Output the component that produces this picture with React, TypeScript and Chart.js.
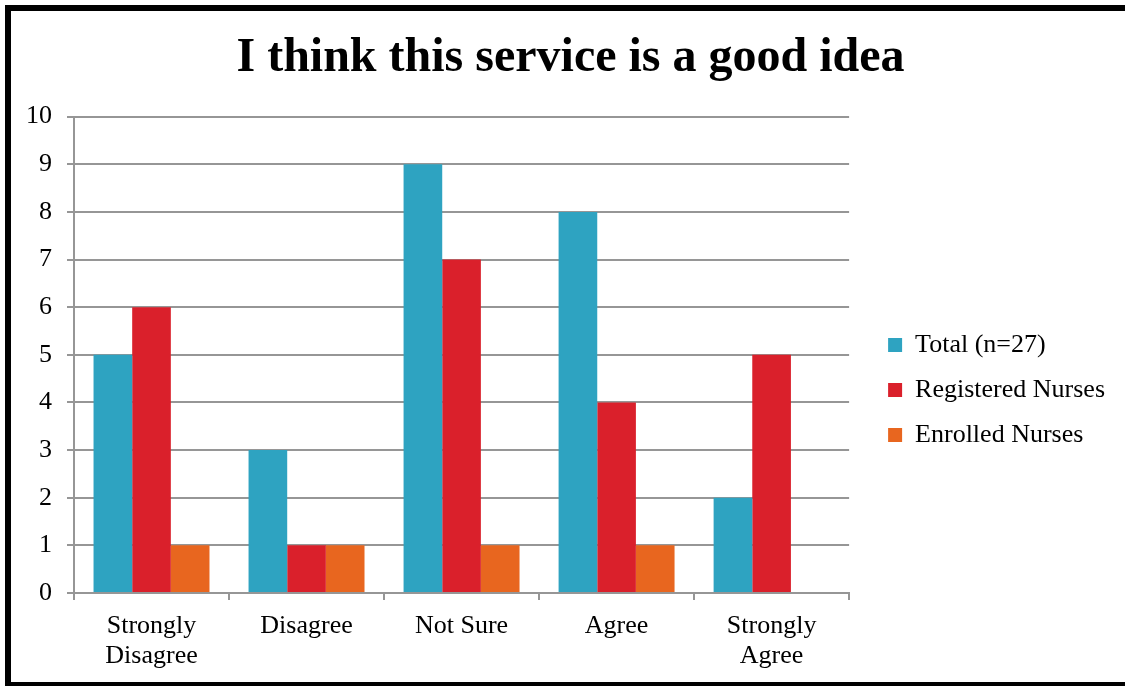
import React, { useEffect, useRef } from "react";
import { Chart, registerables } from "chart.js";

Chart.register(...registerables);

const TITLE = "I think this service is a good idea";
const categories: string[][] = [
  ["Strongly", "Disagree"],
  ["Disagree"],
  ["Not Sure"],
  ["Agree"],
  ["Strongly", "Agree"],
];
const seriesNames = ["Total (n=27)", "Registered Nurses", "Enrolled Nurses"];
const totalValues = [5, 3, 9, 8, 2];
const registeredValues = [6, 1, 7, 4, 5];
const enrolledValues = [1, 1, 1, 1, 0];
const seriesColors = ["#2ea3c1", "#da202b", "#e8661f"];
const yTickMin = 0;
const yTickMax = 10;
const yTickStep = 1;

const FONT = "'Liberation Serif', 'Times New Roman', serif";
const GRID = "#969696";

export default function App() {
  const ref = useRef<HTMLCanvasElement | null>(null);

  useEffect(() => {
    if (!ref.current) return;
    const chart = new Chart(ref.current, {
      type: "bar",
      data: {
        labels: categories,
        datasets: [totalValues, registeredValues, enrolledValues].map((d, i) => ({
          label: seriesNames[i],
          data: d,
          backgroundColor: seriesColors[i],
          borderWidth: 0,
          categoryPercentage: 0.748,
          barPercentage: 1,
        })),
      },
      options: {
        animation: false,
        responsive: false,
        devicePixelRatio: 1,
        layout: { padding: { top: 0, left: 15, right: 10, bottom: 0 } },
        plugins: {
          tooltip: { enabled: false },
          title: {
            display: true,
            text: TITLE,
            color: "#000",
            font: { family: FONT, size: 48, weight: "bold", lineHeight: 1.2 },
            padding: { top: 19, bottom: 29 },
          },
          legend: {
            position: "right",
            align: "center",
            maxWidth: 320,
            title: {
              display: true,
              text: "",
              font: { family: FONT, size: 10, lineHeight: 1 },
              padding: { top: 77, bottom: 0 },
            },
            labels: {
              boxWidth: 14,
              boxHeight: 14,
              padding: 19,
              color: "#000",
              font: { family: FONT, size: 26, lineHeight: 1 },
            },
          },
        },
        scales: {
          x: {
            grid: {
              offset: true,
              drawOnChartArea: false,
              drawTicks: true,
              tickLength: 7,
              color: GRID,
              lineWidth: 2,
            },
            border: { display: true, color: GRID, width: 2 },
            ticks: {
              color: "#000",
              padding: 11,
              maxRotation: 0,
              autoSkip: false,
              font: { family: FONT, size: 26, lineHeight: 30 / 26 },
            },
            afterFit: (s: any) => {
              s.paddingLeft = 0;
              s.paddingRight = 0;
            },
          },
          y: {
            min: yTickMin,
            max: yTickMax,
            grid: { color: GRID, lineWidth: 2, tickLength: 7, drawTicks: true },
            border: { display: true, color: GRID, width: 2 },
            ticks: {
              stepSize: yTickStep,
              color: "#000",
              padding: 15,
              font: { family: FONT, size: 26 },
            },
            afterFit: (s: any) => {
              s.width = 48;
            },
          },
          yR: {
            type: "linear",
            position: "right",
            display: true,
            grid: { display: false, drawTicks: false },
            border: { display: false },
            ticks: { display: false },
            afterFit: (s: any) => {
              s.width = 20;
            },
          },
        },
      } as any,
    });
    return () => chart.destroy();
  }, []);

  return (
    <div
      style={{
        position: "fixed",
        left: 0,
        top: 0,
        width: 1125,
        height: 686,
        overflow: "hidden",
        background: "#fff",
      }}
    >
      <div
        style={{
          position: "absolute",
          left: 5,
          top: 5,
          width: 1130,
          height: 671,
          border: "6px solid #000",
          background: "#fff",
        }}
      >
        <canvas
          ref={ref}
          width={1114}
          height={671}
          style={{ display: "block", width: 1114, height: 671 }}
        />
      </div>
    </div>
  );
}
